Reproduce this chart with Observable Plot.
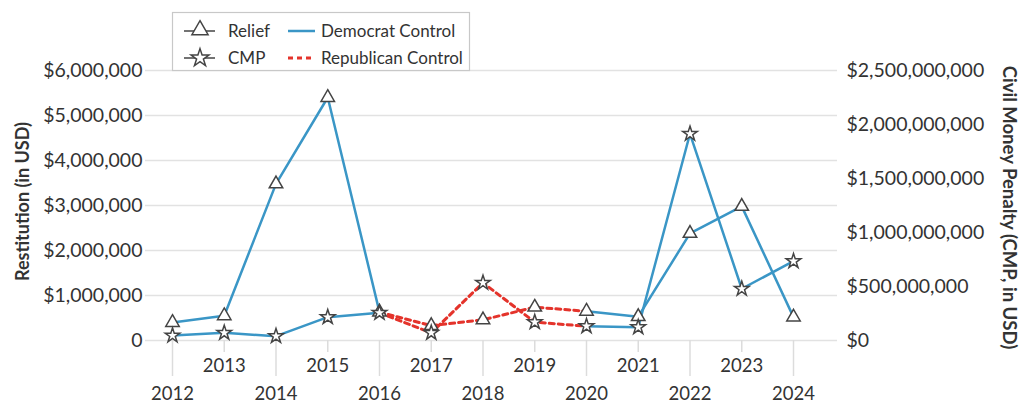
<!DOCTYPE html>
<html>
<head>
<meta charset="utf-8">
<script src="https://cdn.jsdelivr.net/npm/d3@7"></script>
<script src="https://cdn.jsdelivr.net/npm/@observablehq/plot@0.6"></script>
<style>
  html, body { margin: 0; padding: 0; background: #fff; }
  #wrap { position: relative; width: 1024px; height: 419px; font-family: Lato, "Open Sans", sans-serif; }
  #legend { position: absolute; left: 0; top: 0; pointer-events: none; }
</style>
</head>
<body>
<div id="wrap"></div>
<script>
// ---- data ----
const years = [2012, 2013, 2014, 2015, 2016, 2017, 2018, 2019, 2020, 2021, 2022, 2023, 2024];
const relief = [0.40e6, 0.55e6, 3.48e6, 5.40e6, 0.63e6, 0.33e6, 0.46e6, 0.74e6, 0.65e6, 0.53e6, 2.38e6, 2.98e6, 0.52e6];
const cmp = [46e6, 71e6, 40e6, 216e6, 256e6, 71e6, 534e6, 170e6, 132e6, 123e6, 1914e6, 479e6, 734e6];
const controlParty = ["Democrat", "Republican", "Democrat"];
const controlFrom = [2012, 2016, 2020];
const controlTo = [2016, 2020, 2024];
const leftTicks = [0, 1e6, 2e6, 3e6, 4e6, 5e6, 6e6];
const rightTicks = [0, 500e6, 1000e6, 1500e6, 2000e6, 2500e6];
const evenYears = years.filter(y => y % 2 === 0);
const oddYears = years.filter(y => y % 2 === 1);

const BLUE = "#3a96c6";
const RED = "#e4332b";
const INK = "#444";
const TXT = "#333";
const k = 6e6 / 2.5e9; // CMP -> restitution scale

// long-format rows
const rows = [];
years.forEach((y, i) => {
  rows.push({year: y, series: "Relief", v: relief[i]});
  rows.push({year: y, series: "CMP", v: cmp[i] * k});
});
const segs = [];
controlParty.forEach((p, j) => {
  rows.filter(r => r.year >= controlFrom[j] && r.year <= controlTo[j])
      .forEach(r => segs.push({...r, party: p, key: r.series + j}));
});

const money = d3.format(",");
const chart = Plot.plot({
  width: 1024,
  height: 419,
  marginLeft: 145,
  marginRight: 187,
  marginTop: 70,
  marginBottom: 79,
  style: {fontFamily: "Lato, 'Open Sans', sans-serif", fontSize: "18.5px", color: TXT, background: "#fff"},
  x: {domain: [2012, 2024], insetLeft: 27, insetRight: 44},
  y: {domain: [0, 6e6]},
  marks: [
    Plot.ruleY(leftTicks, {stroke: "#e2e2e2", strokeWidth: 1.5}),
    Plot.axisY(leftTicks, {tickSize: 0, tickPadding: 3, label: null, fontSize: 19.5, fill: TXT,
      tickFormat: d => d === 0 ? "0" : "$" + money(d)}),
    Plot.axisY(rightTicks.map(v => v * k), {anchor: "right", tickSize: 0, tickPadding: 9, label: null, fontSize: 19.5, fill: TXT,
      tickFormat: d => "$" + money(Math.round(d / k / 1e6) * 1e6)}),
    Plot.axisX(evenYears, {tickSize: 36, stroke: "#dcdcdc", strokeWidth: 1.5, tickFormat: () => "", label: null}),
    Plot.axisX(oddYears, {tickSize: 12, stroke: "#dcdcdc", strokeWidth: 1.5, tickFormat: () => "", label: null}),
    Plot.axisX(evenYears, {tickSize: 0, tickPadding: 46, tickFormat: "d", label: null, fill: TXT}),
    Plot.axisX(oddYears, {tickSize: 0, tickPadding: 18, tickFormat: "d", label: null, fill: TXT}),
    Plot.text(["Restitution (in USD)"], {frameAnchor: "left", dx: -122, dy: -4, rotate: -90,
      textAnchor: "middle", lineAnchor: "middle", fontSize: 18, fontWeight: 700, fill: TXT}),
    Plot.text(["Civil Money Penalty (CMP, in USD)"], {frameAnchor: "right", dx: 171, dy: 2, rotate: 90,
      textAnchor: "middle", lineAnchor: "middle", fontSize: 18.5, fontWeight: 700, fill: TXT}),
    Plot.line(segs.filter(d => d.party === "Democrat"), {x: "year", y: "v", z: "key",
      stroke: BLUE, strokeWidth: 2.5}),
    Plot.line(segs.filter(d => d.party === "Republican"), {x: "year", y: "v", z: "key",
      stroke: RED, strokeWidth: 3, strokeDasharray: "5,4"}),
    Plot.dot(rows.filter(d => d.series === "Relief"), {x: "year", y: "v", symbol: "triangle", r: 5,
      fill: "#fff", stroke: INK, strokeWidth: 1.5}),
    Plot.dot(rows.filter(d => d.series === "CMP"), {x: "year", y: "v", symbol: "star", r: 4.6,
      fill: "#fff", stroke: INK, strokeWidth: 1.5})
  ]
});
const wrap = document.getElementById("wrap");
wrap.appendChild(chart);

// ---- legend (overlay) ----
const legendItems = [
  {label: "Relief", kind: "triangle", col: 0, row: 0},
  {label: "CMP", kind: "star", col: 0, row: 1},
  {label: "Democrat Control", kind: "dem", col: 1, row: 0},
  {label: "Republican Control", kind: "rep", col: 1, row: 1}
];
const lg = d3.select(wrap).append("svg").attr("id", "legend").attr("width", 1024).attr("height", 80);
lg.append("rect").attr("x", 172.5).attr("y", 12.5).attr("width", 297).attr("height", 58)
  .attr("fill", "#fff").attr("stroke", "#c8c8c8").attr("stroke-width", 1.2);
const colX = [184, 288];
const rowY = [31, 58];
legendItems.forEach(it => {
  const x0 = colX[it.col], y0 = rowY[it.row];
  const g = lg.append("g");
  if (it.kind === "triangle" || it.kind === "star") {
    g.append("line").attr("x1", x0).attr("x2", x0 + 31).attr("y1", y0).attr("y2", y0)
      .attr("stroke", INK).attr("stroke-width", 1.5);
    const sym = it.kind === "triangle" ? d3.symbolTriangle : d3.symbolStar;
    const size = it.kind === "triangle" ? Math.PI * 6 * 6 : Math.PI * 5.6 * 5.6;
    g.append("path").attr("d", d3.symbol(sym, size)()).attr("transform", `translate(${x0 + 16},${y0 - (it.kind === "triangle" ? 1 : 0)})`)
      .attr("fill", "#fff").attr("stroke", INK).attr("stroke-width", 1.5);
  } else {
    g.append("line").attr("x1", x0).attr("x2", x0 + 27).attr("y1", y0).attr("y2", y0)
      .attr("stroke", it.kind === "dem" ? BLUE : RED).attr("stroke-width", it.kind === "dem" ? 2.5 : 3)
      .attr("stroke-dasharray", it.kind === "dem" ? null : "5,4");
  }
  g.append("text").attr("x", it.col === 0 ? 228 : 321).attr("y", y0).attr("dy", "0.35em")
    .attr("font-family", "Lato, 'Open Sans', sans-serif").attr("font-size", 17)
    .attr("fill", TXT).text(it.label);
});
</script>
</body>
</html>
